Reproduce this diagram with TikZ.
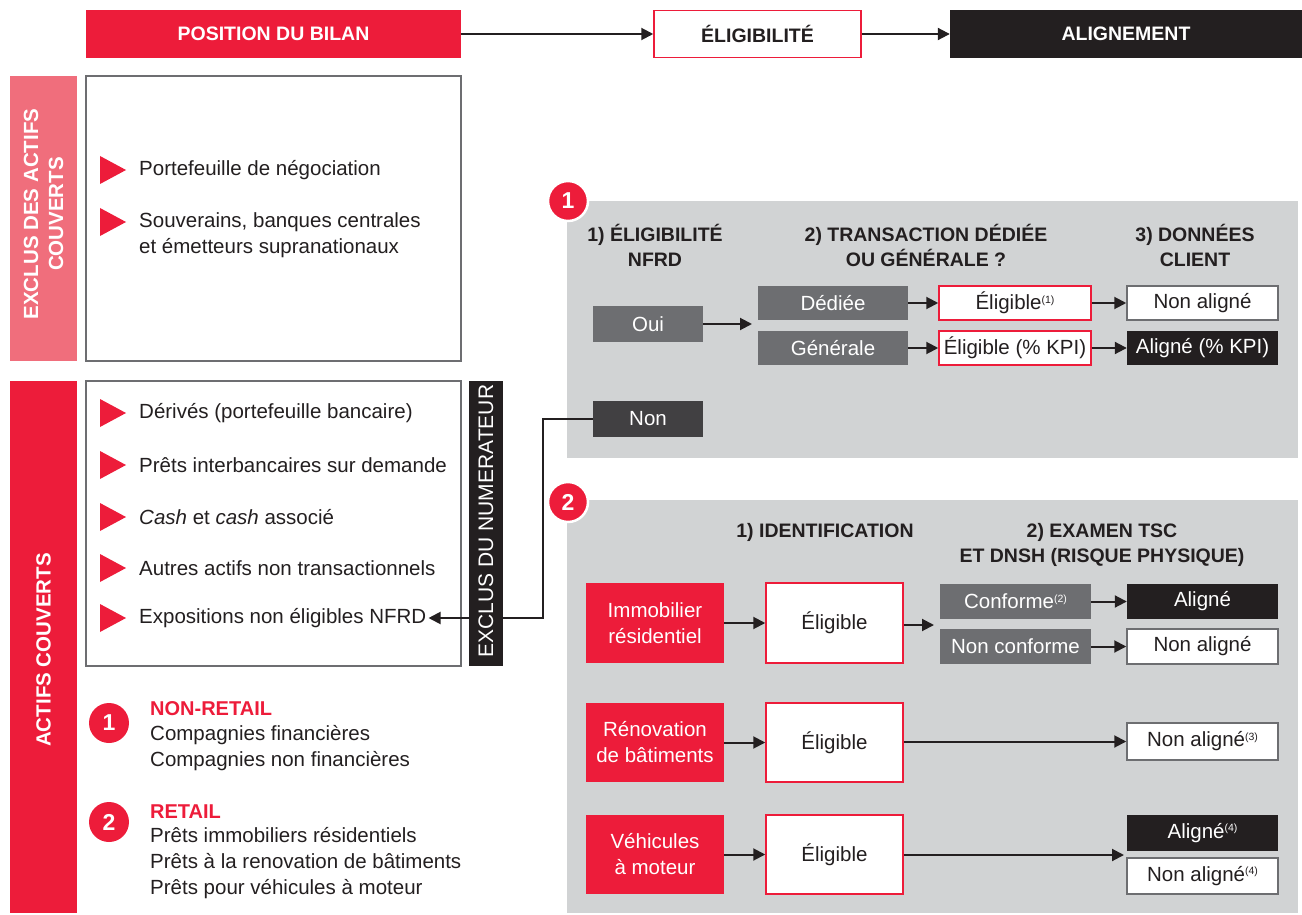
\documentclass[tikz,border=0pt]{standalone}
\usepackage{fontspec}
\setmainfont{Liberation Sans}
\usetikzlibrary{arrows.meta}
\definecolor{cred}{HTML}{ED1C3A}
\definecolor{cpink}{HTML}{F06E7C}
\definecolor{cpanel}{HTML}{D1D3D4}
\definecolor{cmid}{HTML}{6D6E71}
\definecolor{cdark}{HTML}{414042}
\definecolor{cblack}{HTML}{231F20}
\newcommand{\sups}[1]{\raisebox{6.5pt}{\fontsize{10.5}{10.5}\selectfont(#1)}}
\begin{document}
\begin{tikzpicture}[x=1pt,y=-1pt,
  every node/.style={font=\fontsize{20.5}{26}\selectfont, text=cblack, inner sep=2pt},
  rbox/.style={rectangle, inner sep=0pt, minimum width=#1},
  redfill/.style={fill=cred, text=white},
  redline/.style={fill=white, draw=cred, line width=1.5pt},
  greyline/.style={fill=white, draw=cmid, line width=1.5pt},
  midfill/.style={fill=cmid, text=white},
  blackfill/.style={fill=cblack, text=white},
  hdr/.style={font=\bfseries\fontsize{19.5}{25}\selectfont, align=center},
  bartxt/.style={rotate=90, align=center, text=white, font=\bfseries\fontsize{20.5}{25}\selectfont},
  item/.style={anchor=west, align=left},
  arr/.style={draw=cblack, line width=2pt, -{Triangle[length=12pt,width=12pt]}},
  numc/.style={circle, fill=cred, text=white, minimum size=40pt, inner sep=0pt, font=\bfseries\fontsize{23}{23}\selectfont},
  numcw/.style={numc, draw=white, line width=2.5pt}
]
\useasboundingbox (0,0) rectangle (1302,915);

% ---------- top row ----------
\node[rbox=375, minimum height=48, redfill, font=\bfseries\fontsize{19.5}{25}\selectfont] (pos) at (273.5,34) {POSITION DU BILAN};
\node[rbox=207, minimum height=47, redline, font=\bfseries\fontsize{19.5}{25}\selectfont] (elig) at (757.5,34) {ÉLIGIBILITÉ};
\node[rbox=352, minimum height=48, blackfill, font=\bfseries\fontsize{19.5}{25}\selectfont] (aln) at (1126,34) {ALIGNEMENT};
\draw[arr] (pos) -- (elig);
\draw[arr] (elig) -- (aln);

% ---------- left column ----------
\node[rbox=67, minimum height=285, fill=cpink] (pinkbar) at (43.5,218.5) {};
\node[bartxt] (pinktxt) at (43.5,214) {EXCLUS DES ACTIFS\\COUVERTS};
\node[rbox=375, minimum height=285, greyline] (boxa) at (273.5,218.5) {};

\node[rbox=67, minimum height=532, redfill] (redbar) at (43.5,647) {};
\node[bartxt] (redtxt) at (43.5,650) {ACTIFS COUVERTS};
\node[rbox=375, minimum height=285, greyline] (boxb) at (273.5,523.5) {};

% bullets
\foreach \yy in {170,222,413,465,517,568,618}{
  \fill[cred] (100,\yy-14) -- (126,\yy) -- (100,\yy+14) -- cycle;
}
\node[item] (t1) at (137,170) {Portefeuille de négociation};
\node[item] (t2) at (137,235) {Souverains, banques centrales\\et émetteurs supranationaux};
\node[item] (t3) at (137,413) {Dérivés (portefeuille bancaire)};
\node[item] (t4) at (137,465) {Prêts interbancaires sur demande};
\node[item] (t5) at (137,517) {\textit{Cash} et \textit{cash} associé};
\node[item] (t6) at (137,568) {Autres actifs non transactionnels};
\node[item] (t7) at (137,618) {Expositions non éligibles NFRD};

% bottom-left list
\node[numc] (n1) at (109,723) {1};
\node[numc] (n2) at (109,822) {2};
\node[item, font=\bfseries\fontsize{20}{25}\selectfont, text=cred] (nr) at (148,709) {NON-RETAIL};
\node[item] (nrl) at (148,748.5) {Compagnies financières\\Compagnies non financières};
\node[item, font=\bfseries\fontsize{20}{25}\selectfont, text=cred] (rt) at (148,812) {RETAIL};
\node[item] (rtl) at (148,863) {Prêts immobiliers résidentiels\\Prêts à la renovation de bâtiments\\Prêts pour véhicules à moteur};

% ---------- panel 1 ----------
\node[rbox=731, minimum height=257, fill=cpanel] (panA) at (932.5,329.5) {};
\node[numcw] (c1) at (568,201) {1};
\node[hdr] (h11) at (655,245) {1) ÉLIGIBILITÉ\\NFRD};
\node[hdr] (h12) at (926,245) {2) TRANSACTION DÉDIÉE\\OU GÉNÉRALE ?};
\node[hdr] (h13) at (1195,245) {3) DONNÉES\\CLIENT};

\node[rbox=110, minimum height=36, midfill] (oui) at (648,324) {Oui};
\node[rbox=110, minimum height=36, fill=cdark, text=white] (non) at (648,419) {Non};
\coordinate (split) at (752,324);
\draw[arr] (oui) -- (split);
\node[rbox=150, minimum height=34, midfill] (ded) at (833,303) {Dédiée};
\node[rbox=150, minimum height=34, midfill] (gen) at (833,348) {Générale};
\node[rbox=152, minimum height=34, redline] (el1) at (1015,303) {Éligible\sups{1}};
\node[rbox=152, minimum height=34, redline] (el2) at (1015,348) {Éligible (\% KPI)};
\node[rbox=151, minimum height=34, greyline] (na1) at (1202.5,303) {Non aligné};
\node[rbox=151, minimum height=34, blackfill] (al1) at (1202.5,348) {Aligné (\% KPI)};
\draw[arr] (ded) -- (el1);
\draw[arr] (gen) -- (el2);
\draw[arr] (el1) -- (na1);
\draw[arr] (el2) -- (al1);

% connector Non -> excluded item
\draw[arr] (non.west) -- (543,419) |- (t7.east);
\node[rbox=34, minimum height=285, blackfill] (numbar) at (486,523.5) {};
\node[rotate=90, text=white, font=\fontsize{21}{25}\selectfont] (numtxt) at (486,521) {EXCLUS DU NUMERATEUR};

% ---------- panel 2 ----------
\node[rbox=731, minimum height=413, fill=cpanel] (panB) at (932.5,706.5) {};
\node[numcw] (c2) at (568,502) {2};
\node[hdr] (h21) at (825,532) {1) IDENTIFICATION};
\node[hdr] (h22) at (1102,545) {2) EXAMEN TSC\\ET DNSH (RISQUE PHYSIQUE)};

\node[rbox=138, minimum height=80, redfill, align=center] (imm) at (655,623) {Immobilier\\résidentiel};
\node[rbox=137, minimum height=80, redline] (eli1) at (834.5,623) {Éligible};
\coordinate (sp2) at (934,625);
\draw[arr] (imm) -- (eli1);
\draw[arr] (eli1.east |- sp2) -- (sp2);
\node[rbox=151, minimum height=35, midfill] (conf) at (1015.5,601.5) {Conforme\sups{2}};
\node[rbox=151, minimum height=35, midfill] (nconf) at (1015.5,646.5) {Non conforme};
\node[rbox=151, minimum height=35, blackfill] (al2) at (1202.5,601.5) {Aligné};
\node[rbox=151, minimum height=35, greyline] (na2) at (1202.5,646.5) {Non aligné};
\draw[arr] (conf) -- (al2);
\draw[arr] (nconf) -- (na2);

\node[rbox=138, minimum height=79, redfill, align=center] (ren) at (655,742.5) {Rénovation\\de bâtiments};
\node[rbox=137, minimum height=79, redline] (eli2) at (834.5,742.5) {Éligible};
\node[rbox=151, minimum height=37, greyline] (na3) at (1202.5,741.5) {Non aligné\sups{3}};
\draw[arr] (ren) -- (eli2);
\draw[arr] (eli2.east |- na3) -- (na3);

\node[rbox=138, minimum height=79, redfill, align=center] (veh) at (655,854.5) {Véhicules\\à moteur};
\node[rbox=137, minimum height=79, redline] (eli3) at (834.5,854.5) {Éligible};
\node[rbox=151, minimum height=36, blackfill] (al4) at (1202.5,833) {Aligné\sups{4}};
\node[rbox=151, minimum height=36, greyline] (na4) at (1202.5,876) {Non aligné\sups{4}};
\coordinate (sp4) at (1124,855);
\draw[arr] (veh) -- (eli3);
\draw[arr] (eli3.east |- sp4) -- (sp4);
\end{tikzpicture}
\end{document}
